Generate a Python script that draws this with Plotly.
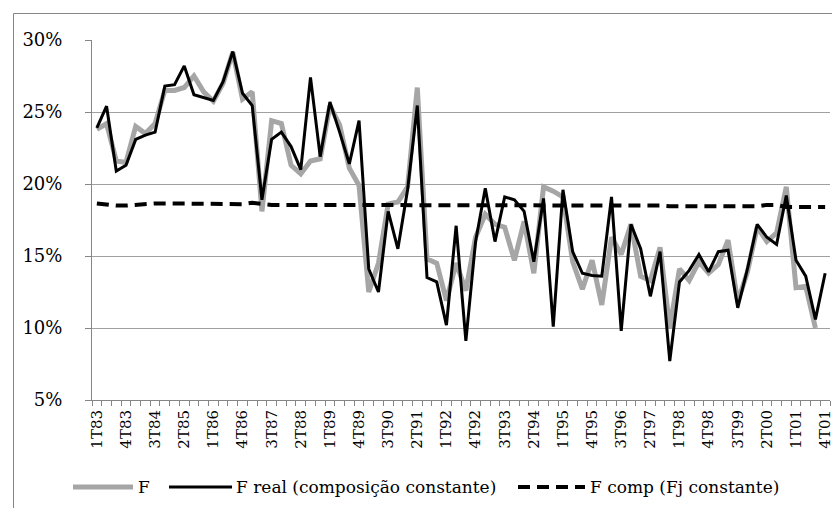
import plotly.graph_objects as go

years = ["83", "84", "85", "86", "87", "88", "89", "90", "91", "92",
         "93", "94", "95", "96", "97", "98", "99", "00", "01"]
quarters = [f"{q}T{y}" for y in years for q in (1, 2, 3, 4)]

f_total = [23.8, 24.2, 21.6, 21.5, 24.0, 23.5, 24.2, 26.5, 26.5, 26.7,
           27.5, 26.4, 25.75, 27.0, 29.15, 25.9, 26.4, 18.1, 24.4, 24.2,
           21.3, 20.7, 21.6, 21.75, 25.45, 24.1, 21.1, 19.9, 12.5, 14.5,
           18.6, 18.75, 19.8, 26.7, 14.8, 14.5, 11.9, 14.5, 12.6, 16.3,
           17.9, 17.2, 17.0, 14.7, 17.4, 13.8, 19.8, 19.5, 19.1, 14.6,
           12.7, 14.7, 11.6, 16.3, 15.1, 17.2, 13.6, 13.3, 15.6, 10.0,
           14.1, 13.3, 14.6, 13.8, 14.4, 16.1, 11.8, 13.9, 17.0, 16.0,
           16.6, 19.8, 12.8, 12.9, 10.0, None]

f_real = [23.9, 25.4, 20.9, 21.3, 23.1, 23.4, 23.6, 26.8, 26.9, 28.2,
          26.2, 26.0, 25.8, 27.1, 29.2, 26.3, 25.45, 18.9, 23.1, 23.6,
          22.6, 21.0, 27.4, 21.9, 25.7, 23.6, 21.4, 24.4, 14.1, 12.5,
          18.1, 15.5, 19.6, 25.45, 13.5, 13.2, 10.2, 17.1, 9.1, 16.0,
          19.7, 16.0, 19.1, 18.9, 18.1, 14.6, 19.0, 10.1, 19.6, 15.3,
          13.8, 13.65, 13.6, 19.1, 9.8, 17.2, 15.5, 12.2, 15.3, 7.7,
          13.2, 14.0, 15.1, 13.9, 15.3, 15.4, 11.4, 14.1, 17.2, 16.3,
          15.8, 19.2, 14.7, 13.6, 10.6, 13.8]

f_comp = [18.65, 18.55, 18.5, 18.5, 18.55, 18.65, 18.65, 18.65, 18.65, 18.65,
          18.65, 18.65, 18.65, 18.65, 18.65, 18.6, 18.7, 18.6, 18.55, 18.55,
          18.55, 18.55, 18.55, 18.55, 18.55, 18.55, 18.55, 18.55, 18.55, 18.55,
          18.55, 18.55, 18.55, 18.55, 18.55, 18.55, 18.55, 18.55, 18.55, 18.55,
          18.55, 18.55, 18.55, 18.55, 18.55, 18.55, 18.55, 18.55, 18.55, 18.55,
          18.55, 18.55, 18.55, 18.55, 18.55, 18.55, 18.55, 18.55, 18.5, 18.45,
          18.45, 18.45, 18.45, 18.45, 18.45, 18.45, 18.45, 18.45, 18.45, 18.55,
          18.55, 18.4, 18.4, 18.4, 18.4, 18.4]

series_names = ["F", "F real (composição constante)", "F comp (Fj constante)"]
y_ticks = [5, 10, 15, 20, 25, 30]

idx = list(range(len(quarters)))
tick_idx = idx[::3]
tick_txt = quarters[::3]

FONT = "DejaVu Serif"

styles = [
    dict(color="#A6A6A6", width=5),
    dict(color="#000000", width=3),
    dict(color="#000000", width=4, dash="12px,7px"),
]

fig = go.Figure()
for name, ys, st in zip(series_names, [f_total, f_real, f_comp], styles):
    fig.add_trace(go.Scatter(x=idx, y=ys, mode="lines", name=name,
                             line=st, connectgaps=False, showlegend=False))

# plot area pixel geometry
L, R, T, B = 84, 822, 32, 392
W, H = 840, 508
def px(x):
    return (x - L) / (R - L)
def py(y):
    return (B - y) / (B - T)

# legend drawn in the figure's bottom band (sample line + real text)
LEG_Y = 479
leg_samples = [(65, 125), (161, 224), (510, 577)]
leg_text_x = [128, 226, 580]

shapes = [
    dict(type="line", xref="paper", yref="paper",
         x0=px(5.5), x1=px(845), y0=py(5.5), y1=py(5.5),
         line=dict(color="#868686", width=1)),
    dict(type="line", xref="paper", yref="paper",
         x0=px(5.5), x1=px(5.5), y0=py(5.5), y1=py(515),
         line=dict(color="#868686", width=1)),
]
annotations = []
for (a, b), tx, name, st in zip(leg_samples, leg_text_x, series_names, styles):
    shapes.append(dict(type="line", xref="paper", yref="paper",
                       x0=px(a), x1=px(b), y0=py(LEG_Y), y1=py(LEG_Y),
                       line=st))
    annotations.append(dict(text=name, xref="paper", yref="paper",
                            x=px(tx), y=py(LEG_Y), xanchor="left",
                            yanchor="middle", showarrow=False,
                            font=dict(family=FONT, size=17, color="#000000")))

fig.update_layout(
    width=W, height=H,
    margin=dict(l=L, r=W - R, t=T, b=H - B),
    paper_bgcolor="white", plot_bgcolor="white",
    font=dict(family=FONT, color="#000000", size=18),
    showlegend=False,
    xaxis=dict(range=[-0.5, len(quarters) - 0.5],
               tickmode="array", tickvals=tick_idx, ticktext=tick_txt,
               tickangle=-90, ticks="", showgrid=False, zeroline=False,
               showline=True, linecolor="#868686", linewidth=1,
               tickfont=dict(family=FONT, size=15),
               ticklabelstandoff=3,
               minor=dict(tickmode="linear", tick0=-0.5, dtick=1,
                          ticks="outside", ticklen=5, tickcolor="#868686",
                          showgrid=False),
               fixedrange=True),
    yaxis=dict(range=[5, 30], tickmode="array", tickvals=y_ticks,
               ticktext=[f"{v}%" for v in y_ticks],
               ticks="outside", ticklen=6, tickcolor="#868686",
               showgrid=True, gridcolor="#A0A0A0", gridwidth=1,
               zeroline=False, showline=True, linecolor="#868686",
               linewidth=1, tickfont=dict(family=FONT, size=18),
               ticklabelstandoff=19, fixedrange=True),
    shapes=shapes,
    annotations=annotations,
)

fig.write_html("out.html")
